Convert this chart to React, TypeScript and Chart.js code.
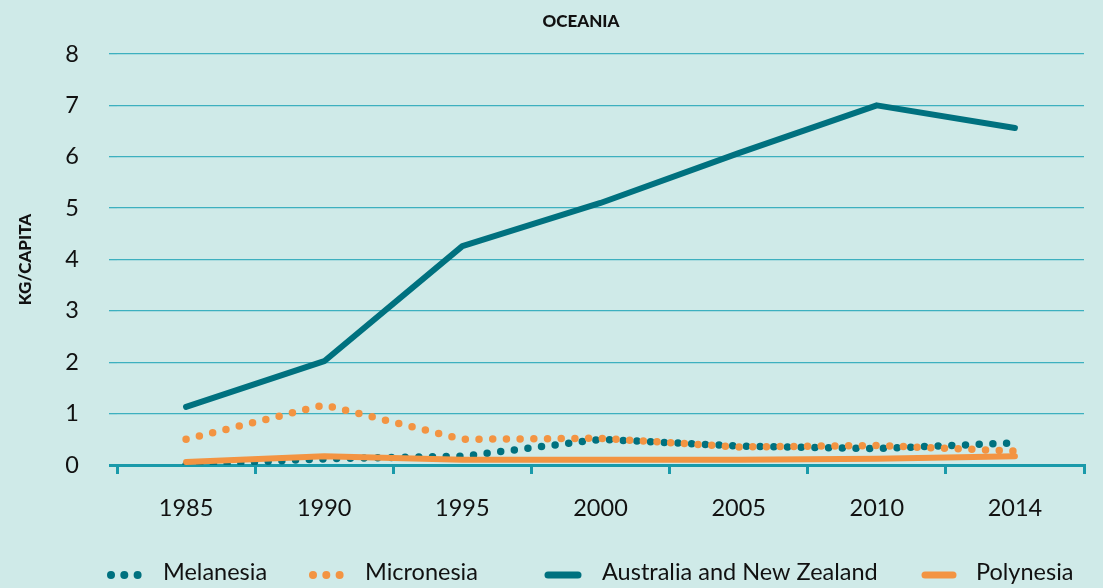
import React, { useEffect, useRef } from "react";
import { Chart, registerables } from "chart.js";

Chart.register(...registerables);

const years = ["1985", "1990", "1995", "2000", "2005", "2010", "2014"];
const melanesia = [0.0, 0.12, 0.17, 0.5, 0.37, 0.32, 0.43];
const micronesia = [0.5, 1.17, 0.5, 0.52, 0.35, 0.38, 0.27];
const ausNz = [1.13, 2.02, 4.26, 5.1, 6.07, 7.0, 6.56];
const polynesia = [0.06, 0.17, 0.1, 0.1, 0.1, 0.12, 0.17];
const seriesNames = ["Melanesia", "Micronesia", "Australia and New Zealand", "Polynesia"];
const yTicks = [0, 1, 2, 3, 4, 5, 6, 7, 8];

const TEAL = "#00717F";
const ORANGE = "#F39442";
const GRID = "#3DB0BF";
const AXIS = "#1A9AAA";
const BG = "#CFEAE8";
const FONT = "Lato, 'Open Sans', sans-serif";

export default function App() {
  const ref = useRef<HTMLCanvasElement | null>(null);

  useEffect(() => {
    document.body.style.margin = "0";
    const canvas = ref.current;
    if (!canvas) return;

    const overlay = {
      id: "overlay",
      afterDraw(chart: any) {
        const ctx = chart.ctx;
        ctx.save();
        // title
        ctx.fillStyle = "#111";
        ctx.font = `900 17px ${FONT}`;
        ctx.textAlign = "center";
        ctx.textBaseline = "middle";
        ctx.fillText("OCEANIA", 581, 22);
        // legend
        const ly = 575;
        ctx.font = `23.5px ${FONT}`;
        ctx.textAlign = "left";
        ctx.textBaseline = "middle";
        const dotItem = (x0: number, color: string) => {
          ctx.fillStyle = color;
          for (let i = 0; i < 3; i++) {
            ctx.beginPath();
            ctx.arc(x0 + i * 13.3, ly, 4, 0, Math.PI * 2);
            ctx.fill();
          }
        };
        const lineItem = (x0: number, x1: number, color: string) => {
          ctx.strokeStyle = color;
          ctx.lineWidth = 7;
          ctx.lineCap = "round";
          ctx.beginPath();
          ctx.moveTo(x0, ly);
          ctx.lineTo(x1, ly);
          ctx.stroke();
        };
        dotItem(111, TEAL);
        ctx.fillStyle = "#111";
        ctx.fillText(seriesNames[0], 163, ly - 3);
        dotItem(313, ORANGE);
        ctx.fillStyle = "#111";
        ctx.fillText(seriesNames[1], 365, ly - 3);
        lineItem(548, 578, TEAL);
        ctx.fillStyle = "#111";
        ctx.fillText(seriesNames[2], 602, ly - 3);
        lineItem(925, 953, ORANGE);
        ctx.fillStyle = "#111";
        ctx.fillText(seriesNames[3], 976, ly - 3);
        ctx.restore();
      },
    };

    const chart = new Chart(canvas, {
      type: "line",
      data: {
        labels: years,
        datasets: [
          {
            label: seriesNames[0],
            data: melanesia,
            borderColor: TEAL,
            borderWidth: 7.5,
            borderDash: [0, 13.7],
            borderCapStyle: "round",
            pointRadius: 0,
            tension: 0,
            order: 3,
          },
          {
            label: seriesNames[1],
            data: micronesia,
            borderColor: ORANGE,
            borderWidth: 7.5,
            borderDash: [0, 13.7],
            borderCapStyle: "round",
            pointRadius: 0,
            tension: 0,
            order: 2,
          },
          {
            label: seriesNames[2],
            data: ausNz,
            borderColor: TEAL,
            borderWidth: 6,
            borderCapStyle: "round",
            borderJoinStyle: "round",
            pointRadius: 0,
            tension: 0,
            order: 1,
          },
          {
            label: seriesNames[3],
            data: polynesia,
            borderColor: ORANGE,
            borderWidth: 6,
            borderCapStyle: "round",
            borderJoinStyle: "round",
            pointRadius: 0,
            tension: 0,
            order: 0,
          },
        ],
      },
      options: {
        animation: false,
        responsive: false,
        maintainAspectRatio: false,
        layout: { padding: { top: 54, right: 19, left: 0, bottom: 0 } },
        plugins: {
          legend: { display: false },
          title: { display: false },
          tooltip: { enabled: false },
        },
        scales: {
          x: {
            type: "category",
            offset: true,
            grid: {
              offset: true,
              drawOnChartArea: false,
              drawTicks: true,
              tickLength: 9,
              color: AXIS,
              lineWidth: 3,
            },
            border: { display: true, color: AXIS, width: 3 },
            ticks: {
              padding: 20,
              color: "#111",
              font: { family: FONT, size: 23.5 },
            },
            afterFit: (s: any) => {
              s.height = 123;
            },
          },
          y: {
            min: 0,
            max: 8,
            afterBuildTicks: (s: any) => {
              s.ticks = yTicks.map((v) => ({ value: v }));
            },
            grid: {
              color: (c: any) => (c.tick && c.tick.value === 0 ? AXIS : GRID),
              lineWidth: (c: any) => (c.tick && c.tick.value === 0 ? 3 : 1.3),
              tickLength: 8,
            },
            border: { display: false },
            ticks: {
              padding: 30,
              color: "#111",
              font: { family: FONT, size: 23.5 },
            },
            title: {
              display: true,
              text: "KG/CAPITA",
              color: "#111",
              font: { family: FONT, size: 17, weight: "900" },
              padding: { top: 15, bottom: 0 },
            },
            afterFit: (s: any) => {
              s.width = 117;
            },
          },
        },
      },
      plugins: [overlay],
    } as any);

    return () => chart.destroy();
  }, []);

  return (
    <div style={{ width: 1103, height: 588, background: BG }}>
      <canvas ref={ref} width={1103} height={588} style={{ display: "block" }} />
    </div>
  );
}
